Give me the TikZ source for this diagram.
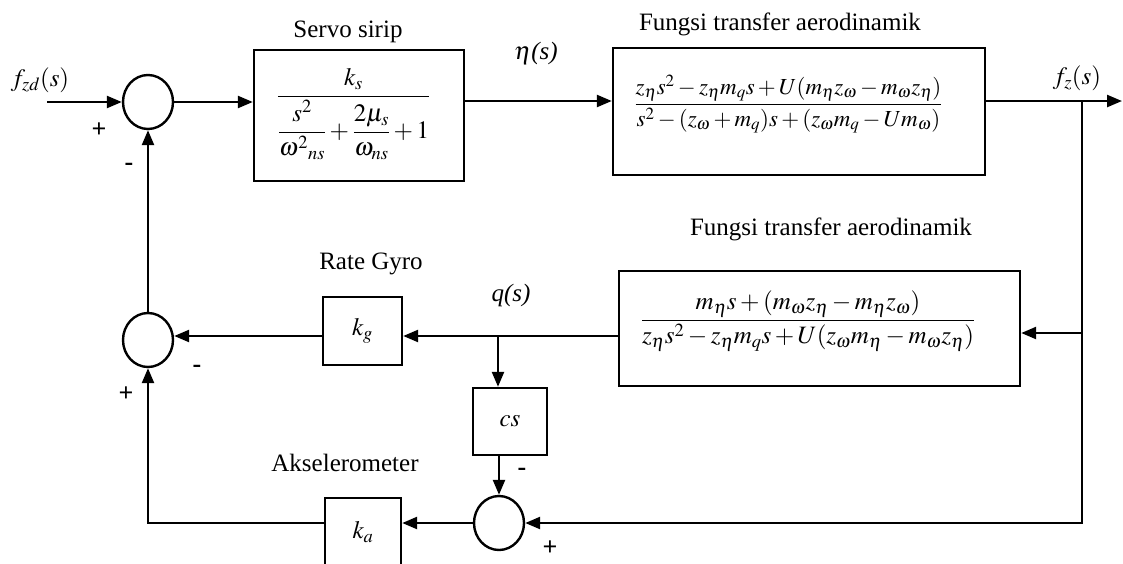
\documentclass[tikz,border=0pt]{standalone}
\usepackage{amsmath}
\usepackage{mathptmx}
\usepackage{fontspec}
\setmainfont{Liberation Serif}
\usetikzlibrary{arrows.meta,shapes.geometric,calc}
\newcommand\bigfs{\fontsize{25}{30}\selectfont}
\newcommand\midfs{\fontsize{23}{28}\selectfont}
\tikzset{
  blk/.style={draw,line width=2.4pt,rectangle,inner sep=0pt},
  sumj/.style={draw,line width=2.4pt,ellipse,minimum width=50pt,minimum height=54pt,inner sep=0pt},
  lbl/.style={font=\bigfs,inner sep=0pt},
  sgn/.style={font=\fontsize{26}{30}\selectfont\bfseries,inner sep=0pt},
  wire/.style={line width=2.4pt},
  arr/.style={wire,-{Triangle[length=15pt,width=12pt]}}
}
\begin{document}
\begin{tikzpicture}[x=1pt,y=-1pt]
\useasboundingbox (0,0) rectangle (1123,563);
\clip (0,0) rectangle (1123,563);
\fill[white] (0,0) rectangle (1123,563);
% summing junctions
\node[sumj] (s1) at (148,102) {};
\node[sumj] (s2) at (148,340) {};
\node[sumj] (s3) at (499,523) {};
% blocks
\node[blk,minimum width=210pt,minimum height=131pt] (servo) at (359,115.5) {};
\node[lbl] (servof) at (353.5,114) {$\dfrac{k_s}{\dfrac{s^{2}}{\omega^{2}{}_{ns}}+\dfrac{2\mu_s}{\omega_{ns}}+1}$};
\node[blk,minimum width=372pt,minimum height=127pt] (aero1) at (799,111.5) {};
\node[lbl,font=\midfs] (aero1f) at (788.5,104) {$\dfrac{z_\eta s^{2}-z_\eta m_q s+U(m_\eta z_\omega-m_\omega z_\eta)}{s^{2}-(z_\omega+m_q)s+(z_\omega m_q-U m_\omega)}$};
\node[blk,minimum width=401pt,minimum height=115pt] (aero2) at (819.5,328.5) {};
\node[lbl] (aero2f) at (808,321) {$\dfrac{m_\eta s+(m_\omega z_\eta-m_\eta z_\omega)}{z_\eta s^{2}-z_\eta m_q s+U(z_\omega m_\eta-m_\omega z_\eta)}$};
\node[blk,minimum width=79pt,minimum height=68pt,font=\bigfs] (kg) at (362.5,331) {$k_g$};
\node[blk,minimum width=76pt,minimum height=68pt,font=\bigfs] (ka) at (363,532) {$k_a$};
\node[blk,minimum width=74pt,minimum height=67pt,font=\bigfs] (cs) at (510,421.5) {$cs$};
% titles and signal labels
\node[lbl] (tservo) at (348,32) {Servo sirip};
\node[lbl] (taero1) at (780,24) {Fungsi transfer aerodinamik};
\node[lbl] (taero2) at (831,229) {Fungsi transfer aerodinamik};
\node[lbl] (tgyro) at (371,264) {Rate Gyro};
\node[lbl] (tacc) at (345,463) {Akselerometer};
\node[lbl] (lfzd) at (40,80) {$f_{zd}(s)$};
\node[lbl] (leta) at (536,53) {$\eta$\textit{(s)}};
\node[lbl] (lq) at (511,295) {\textit{q(s)}};
\node[lbl] (lfz) at (1077,78) {$f_z(s)$};
% signs
\node[sgn] (p1) at (99,130) {+};
\node[sgn] (m1) at (129,167) {-};
\node[sgn] (m2) at (197,369) {-};
\node[sgn] (p2) at (126,394) {+};
\node[sgn] (m3) at (522,472) {-};
\node[sgn] (p3) at (550,548) {+};
% coordinates
\coordinate (in) at (47,102);
\coordinate (out) at (1122,101);
\coordinate (br) at (1082,101);
\coordinate (b2) at (1082,333);
\coordinate (q) at (498,336);
% connectors
\draw[arr] (in) -- (s1.west);
\draw[arr] (s1.east) -- (s1.east -| servo.west);
\draw[arr] (servo.east |- br) -- (aero1.west |- br);
\draw[arr] (aero1.east |- br) -- (out);
\draw[arr] (br) |- (s3.east);
\draw[arr] (b2) -- (b2 -| aero2.east);
\draw[wire] (aero2.west |- q) -- (q);
\draw[arr] (q) -- (q -| kg.east);
\draw[arr] (q -| kg.west) -- (q -| s2.east);
\draw[arr] (q) -- (q |- cs.north);
\draw[arr] (s3.north |- cs.south) -- (s3.north);
\draw[arr] (s3.west) -- (s3.west -| ka.east);
\draw[arr] (ka.west |- s3.west) -| (s2.south);
\draw[arr] (s2.north) -- (s1.south);
\end{tikzpicture}
\end{document}
